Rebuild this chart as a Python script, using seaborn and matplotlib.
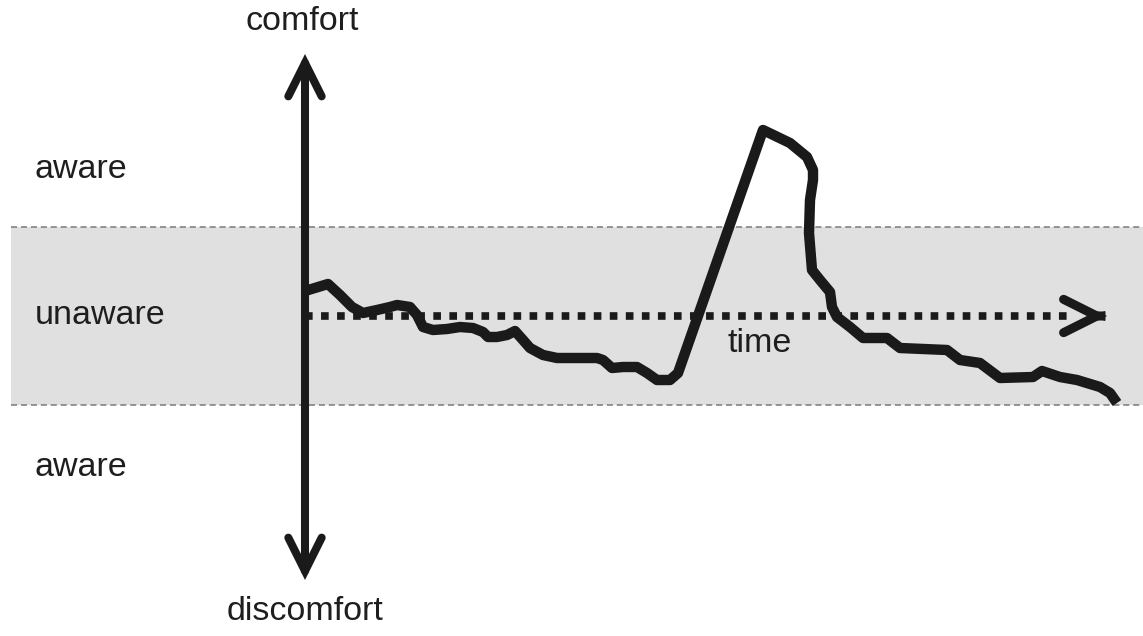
import matplotlib
matplotlib.use("Agg")
import matplotlib.pyplot as plt
from matplotlib.patches import ArrowStyle
import seaborn as sns
import pandas as pd

# ---- data ----
time_vals = [0, 23, 35, 47, 58, 72, 85, 92, 105, 112, 118, 128, 142, 155, 168,
             178, 183, 192, 202, 210, 218, 225, 238, 252, 292, 298, 307, 318,
             332, 342, 352, 365, 373, 458, 485, 502, 508, 508, 505, 504, 507,
             515, 525, 527, 532, 545, 558, 582, 595, 642, 655, 675, 695, 728,
             737, 755, 772, 795, 805, 812]
comfort_vals = [25, 32, 21, 9, 3, 6, 9, 11, 9, 1, -11, -14, -13, -11, -12,
                -16, -21, -21, -19, -15, -24, -32, -39, -42, -42, -44, -52, -51,
                -51, -57, -64, -64, -57, 186, 173, 159, 146, 136, 116, 83, 46,
                36, 24, 9, -1, -11, -22, -22, -32, -34, -44, -47, -62, -61,
                -55, -61, -64, -71, -77, -87]
band_limits = [-89, 89]          # unaware zone
axis_limits = [-264, 262]        # comfort / discomfort arrow
time_end = 802
zone_labels = ["aware", "unaware", "aware"]
zone_levels = [147, 1, -152]
axis_labels = ["comfort", "discomfort"]

df = pd.DataFrame({"time": time_vals, "comfort": comfort_vals})

sns.set_theme(style="white")
plt.rcParams["font.family"] = ["Liberation Sans", "DejaVu Sans"]

fig = plt.figure(figsize=(11.43, 6.36), dpi=100)
ax = fig.add_axes([0, 0, 1, 1])
XL, YL = (-305, 838), (-320, 316)

# unaware band
x0 = 11 / 1143
ax.axhspan(band_limits[0], band_limits[1], xmin=x0, color="#e0e0e0", zorder=0, lw=0)
for b in band_limits:
    ax.axhline(b, xmin=x0, color="#7a7a7a", lw=1.1, dashes=(4, 2.5), zorder=1)

# time axis (dotted) with chevron head
ax.plot([0, time_end - 34], [0, 0], color="#1a1a1a", lw=5.5,
        dashes=(1, 1.1), solid_capstyle="butt", dash_capstyle="butt", zorder=2)
ax.annotate("", xy=(time_end, 0), xytext=(time_end - 2, 0),
            arrowprops=dict(arrowstyle=ArrowStyle("->", head_length=1.2, head_width=0.6),
                            mutation_scale=20, color="#1a1a1a", lw=6.5, shrinkA=0, shrinkB=0,
                            joinstyle="miter", capstyle="round"),
            zorder=2)

# comfort axis double arrow
ax.annotate("", xy=(0, axis_limits[1]), xytext=(0, axis_limits[0]),
            arrowprops=dict(arrowstyle=ArrowStyle("<->", head_length=1.2, head_width=0.6),
                            mutation_scale=20, color="#1a1a1a", lw=5.8, shrinkA=0, shrinkB=0,
                            joinstyle="miter"),
            zorder=3)

# comfort curve
sns.lineplot(data=df, x="time", y="comfort", sort=False, estimator=None,
             color="#1a1a1a", lw=7.5, ax=ax, zorder=4)
ax.lines[-1].set_solid_joinstyle("round")
ax.lines[-1].set_solid_capstyle("butt")
ax.set_xlim(*XL)
ax.set_ylim(*YL)
ax.axis("off")

txt = dict(fontsize=24.5, color="#1e1e1e")
for lab, lev in zip(zone_labels, zone_levels):
    ax.text(-270, lev, lab, ha="left", va="center", **txt)
ax.text(-3, 294, axis_labels[0], ha="center", va="center", **txt)
ax.text(0, -296, axis_labels[1], ha="center", va="center", **txt)
ax.text(455, -28, "time", ha="center", va="center", **txt)

fig.savefig("out.png", dpi=100)
